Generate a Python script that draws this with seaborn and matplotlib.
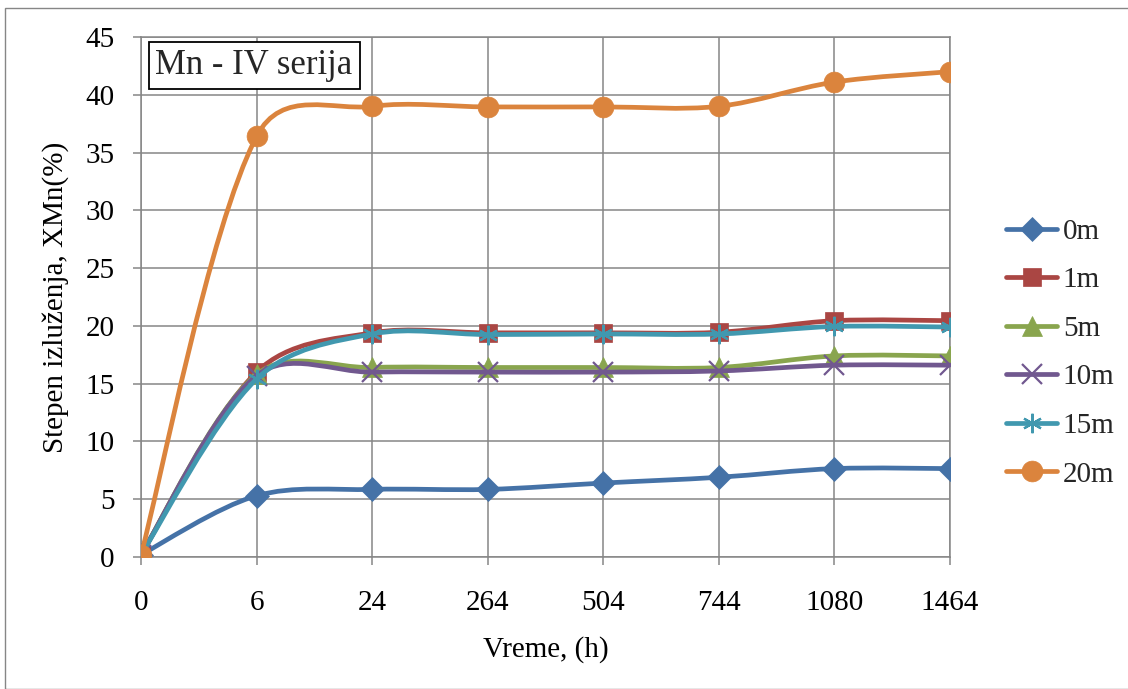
import numpy as np
import pandas as pd
import matplotlib
matplotlib.use("Agg")
import matplotlib.pyplot as plt
import seaborn as sns
from matplotlib.path import Path
from matplotlib.patches import PathPatch, Rectangle
from matplotlib.lines import Line2D

# ---------------- data ----------------
times = ["0", "6", "24", "264", "504", "744", "1080", "1464"]
s_0m = [0.2, 5.3, 5.85, 5.85, 6.4, 6.9, 7.65, 7.65]
s_1m = [0.2, 16.0, 19.4, 19.4, 19.4, 19.45, 20.45, 20.45]
s_5m = [0.2, 15.8, 16.4, 16.4, 16.4, 16.4, 17.4, 17.4]
s_10m = [0.2, 15.7, 16.0, 16.0, 16.0, 16.1, 16.6, 16.6]
s_15m = [0.2, 15.4, 19.3, 19.25, 19.3, 19.3, 19.95, 19.9]
s_20m = [0.2, 36.4, 39.0, 38.95, 38.95, 39.0, 41.1, 42.0]
series_names = ["0m", "1m", "5m", "10m", "15m", "20m"]
series_values = [s_0m, s_1m, s_5m, s_10m, s_15m, s_20m]

colors = ["#4572A7", "#AA4643", "#89A54E", "#71588F", "#4198AF", "#DB843D"]
markers = ["D", "s", "^", "x", (6, 2, 0), "o"]
msizes = [12, 13, 14, 14, 14, 15]
LW = 3.4

sns.set_theme(style="white")
plt.rcParams["font.family"] = ["Liberation Serif", "DejaVu Serif"]

W, H = 1128, 689
fig = plt.figure(figsize=(W / 100, H / 100), dpi=100)
L, R, T, B = 141, 950, 37, 557
ax = fig.add_axes([L / W, 1 - B / H, (R - L) / W, (B - T) / H])
ax.set_xlim(0, len(times) - 1)
ax.set_ylim(0, 45)

FS = 21
grid_c = "#868686"
ax.set_xticks(range(len(times)))
ax.set_xticklabels(times)
ax.set_yticks(np.arange(0, 46, 5))
ax.grid(True, color=grid_c, lw=1.1)
for sp in ax.spines.values():
    sp.set_color(grid_c)
    sp.set_linewidth(1.1)
ax.tick_params(axis="both", direction="out", length=6, width=1.1, color=grid_c,
               labelsize=FS, labelcolor="black", bottom=True, left=True)
ax.tick_params(axis="x", pad=18)
ax.tick_params(axis="y", pad=13)

x_pos = np.arange(len(times))


def smooth_path(xs, ys):
    tr = ax.transData
    pts = tr.transform(np.column_stack([xs, ys]))
    n = len(pts)
    verts = [pts[0]]
    codes = [Path.MOVETO]
    for i in range(n - 1):
        p0 = pts[i - 1] if i > 0 else pts[i]
        p1 = pts[i]
        p2 = pts[i + 1]
        p3 = pts[i + 2] if i + 2 < n else pts[i + 1]
        d01 = np.hypot(*(p1 - p0))
        d12 = np.hypot(*(p2 - p1))
        d23 = np.hypot(*(p3 - p2))
        k1 = (1 / 6) * np.sqrt(2 * d12 / (d01 + d12)) if d01 > 0 else 1 / 6
        k2 = (1 / 6) * np.sqrt(2 * d12 / (d12 + d23)) if d23 > 0 else 1 / 6
        c1 = p1 + k1 * (p2 - p0)
        c2 = p2 - k2 * (p3 - p1)
        verts += [c1, c2, p2]
        codes += [Path.CURVE4] * 3
    verts = tr.inverted().transform(np.array(verts))
    return Path(verts, codes)


for k, (name, vals) in enumerate(zip(series_names, series_values)):
    c = colors[k]
    patch = PathPatch(smooth_path(x_pos, vals), fill=False, edgecolor=c, lw=LW,
                      capstyle="round", joinstyle="round", zorder=3 + 2 * k)
    ax.add_patch(patch)
    df = pd.DataFrame({"x": x_pos, "y": vals})
    m = markers[k]
    filled = m in ("D", "s", "^", "o")
    sns.lineplot(data=df, x="x", y="y", ax=ax, color=c, marker=m, markersize=msizes[k],
                 linestyle="none", markeredgecolor=c,
                 markeredgewidth=1.6 if not filled else 0.5,
                 zorder=4 + 2 * k, legend=False)

ax.set_xlim(0, len(times) - 1)
ax.set_ylim(0, 45)
ax.set_xlabel("Vreme, (h)", fontsize=FS, labelpad=14, color="black")
ax.set_ylabel("Stepen izluženja, XMn(%)", fontsize=FS, labelpad=12, color="black")

# title box
ax.add_patch(Rectangle(((149 - L) / (R - L), (B - 89) / (B - T)), 211 / (R - L), 47 / (B - T),
                       transform=ax.transAxes, facecolor="white", edgecolor="black",
                       lw=1.3, zorder=20, clip_on=False))
ax.text((254 - L) / (R - L), (B - 65) / (B - T), "Mn - IV serija", transform=ax.transAxes,
        ha="center", va="center", fontsize=25, zorder=21)

# legend
handles = [Line2D([], [], color=colors[k], lw=LW, marker=markers[k], markersize=msizes[k],
                  markeredgecolor=colors[k],
                  markeredgewidth=1.6 if markers[k] in ("x", (6, 2, 0)) else 0.5)
           for k in range(len(series_names))]
fig.legend(handles, series_names, loc="center left", bbox_to_anchor=(1006 / W, 1 - 353 / H),
           frameon=False, fontsize=FS, handlelength=1.75, handletextpad=0.2,
           labelspacing=0.76, borderpad=0, borderaxespad=0)

# outer chart border
fig.patches.append(Rectangle((5 / W, 0), 1.2, 1 - 8 / H, transform=fig.transFigure,
                             fill=False, edgecolor="#868686", lw=1.0))

fig.savefig("out.png", dpi=100, facecolor="white")
